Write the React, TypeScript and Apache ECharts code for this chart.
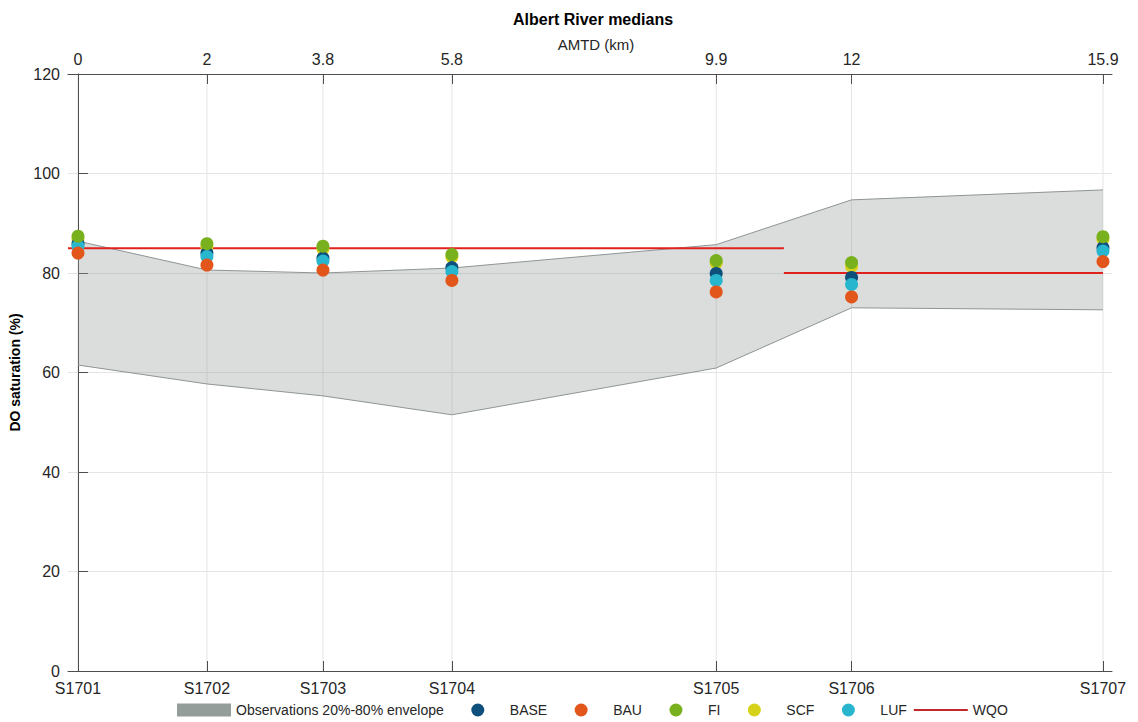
import React, { useEffect, useRef } from "react";
import * as echarts from "echarts";

// AMTD positions (km) of the stations
const km = [0, 2, 3.8, 5.8, 9.9, 12, 15.9];
const kmLabels = ["0", "2", "3.8", "5.8", "9.9", "12", "15.9"];
const stations = ["S1701", "S1702", "S1703", "S1704", "S1705", "S1706", "S1707"];

// Observations 20%-80% envelope
const envLower = [61.5, 57.7, 55.3, 51.5, 60.9, 73.0, 72.6];
const envUpper = [86.4, 80.6, 80.0, 81.0, 85.7, 94.7, 96.7];

// scenario medians (DO saturation %)
const BASE = [85.9, 84.0, 83.0, 81.1, 79.9, 79.1, 85.1];
const BAU = [84.0, 81.6, 80.6, 78.5, 76.2, 75.2, 82.3];
const FI = [87.4, 85.9, 85.4, 83.7, 82.5, 82.1, 87.3];
const SCF = [86.8, 85.3, 84.8, 83.2, 82.0, 81.3, 86.8];
const LUF = [85.4, 83.3, 82.4, 80.3, 78.5, 77.7, 84.4];

// water quality objective segments
const wqo1X = [-0.155, 10.95];
const wqo1Y = [85, 85];
const wqo2X = [10.95, 15.9];
const wqo2Y = [80, 80];

const X_MIN = -0.155;
const X_MAX = 16.04;

const FONT = "'Liberation Sans', Arial, Helvetica, sans-serif";
const TXT = "#262626";
const AXIS = "#4d4d4d";

const ENV_NAME = "Observations 20%-80% envelope";

// legend icons sized to a 54x13 box (M points fix the bounding box)
const CIRCLE_ICON =
  "path://M0 0M54 13M33.5 6.5A6.5 6.5 0 1 1 20.5 6.5A6.5 6.5 0 1 1 33.5 6.5Z";
const LINE_ICON = "path://M0 0M54 13M0 5.5L54 5.5L54 7.5L0 7.5Z";

export default function App() {
  const ref = useRef<HTMLDivElement>(null);
  useEffect(() => {
    if (!ref.current) return;
    const chart = echarts.init(ref.current, undefined, { renderer: "svg" });

    const scatter = (name: string, vals: number[], color: string, z: number) => ({
      name,
      type: "scatter",
      xAxisIndex: 0,
      yAxisIndex: 0,
      symbol: "circle",
      symbolSize: 13,
      z,
      itemStyle: { color, opacity: 1 },
      data: km.map((k, i) => [k, vals[i]]),
    });

    const nearest = (v: number) => {
      let best = 0;
      km.forEach((k, i) => {
        if (Math.abs(k - v) < Math.abs(km[best] - v)) best = i;
      });
      return best;
    };

    const option: any = {
      animation: false,
      textStyle: { fontFamily: FONT },
      title: {
        text: "Albert River medians",
        left: 508,
        top: 6,
        textStyle: { fontFamily: FONT, fontSize: 16, fontWeight: "bold", color: "#000" },
      },
      graphic: [
        {
          type: "text",
          x: 596,
          y: 44,
          style: {
            text: "AMTD (km)",
            fontFamily: FONT,
            fontSize: 15,
            fill: TXT,
            textAlign: "center",
            textVerticalAlign: "middle",
          },
        },
      ],
      grid: { left: 68, right: 26, top: 74, bottom: 51 },
      legend: {
        left: 172,
        top: 698,
        itemWidth: 54,
        itemHeight: 13,
        itemGap: 7,
        textStyle: { fontFamily: FONT, fontSize: 14, color: TXT },
        data: [
          { name: ENV_NAME, icon: "rect" },
          { name: "BASE", icon: CIRCLE_ICON },
          { name: "BAU", icon: CIRCLE_ICON },
          { name: "FI", icon: CIRCLE_ICON },
          { name: "SCF", icon: CIRCLE_ICON },
          { name: "LUF", icon: CIRCLE_ICON },
          { name: "WQO", icon: LINE_ICON, itemStyle: { color: "#c0282b" } },
        ],
      },
      xAxis: [
        {
          type: "value",
          position: "bottom",
          min: X_MIN,
          max: X_MAX,
          axisLine: { show: true, lineStyle: { color: AXIS, width: 1 } },
          axisTick: { show: true, inside: true, length: 10, customValues: km, lineStyle: { color: AXIS } },
          axisLabel: {
            customValues: km,
            margin: 9,
            fontSize: 16,
            fontFamily: FONT,
            color: TXT,
            formatter: (v: number) => stations[nearest(v)],
          },
          splitLine: { show: false },
        },
        {
          type: "value",
          position: "top",
          min: X_MIN,
          max: X_MAX,
          axisLine: { show: true, lineStyle: { color: AXIS, width: 1 } },
          axisTick: { show: true, inside: true, length: 10, customValues: km, lineStyle: { color: AXIS } },
          axisLabel: {
            customValues: km,
            margin: 7,
            fontSize: 16,
            fontFamily: FONT,
            color: TXT,
            formatter: (v: number) => kmLabels[nearest(v)],
          },
          splitLine: { show: false },
        },
      ],
      yAxis: {
        type: "value",
        min: 0,
        max: 120,
        interval: 20,
        name: "DO saturation (%)",
        nameLocation: "middle",
        nameGap: 42,
        nameTextStyle: { fontFamily: FONT, fontSize: 14, fontWeight: "bold", color: "#000" },
        axisLine: { show: true, lineStyle: { color: AXIS, width: 1 } },
        axisTick: { show: true, inside: true, length: 10, lineStyle: { color: AXIS } },
        axisLabel: { margin: 8, fontSize: 16, fontFamily: FONT, color: TXT },
        splitLine: { show: true, lineStyle: { color: "#e4e4e4", width: 1 } },
      },
      series: [
        {
          name: "vgrid",
          type: "custom",
          silent: true,
          z: 0,
          xAxisIndex: 0,
          yAxisIndex: 0,
          data: km.map((k) => [k, 0]),
          renderItem: (params: any, api: any) => {
            const x = api.value(0);
            const p0 = api.coord([x, 0]);
            const p1 = api.coord([x, 120]);
            return {
              type: "line",
              shape: { x1: p0[0], y1: p0[1], x2: p1[0], y2: p1[1] },
              style: { stroke: "#e4e4e4", lineWidth: 1 },
            };
          },
        },
        {
          name: ENV_NAME,
          type: "custom",
          silent: true,
          z: 1,
          xAxisIndex: 0,
          yAxisIndex: 0,
          itemStyle: { color: "#959d9a" },
          data: km.map((k, i) => [k, envLower[i], envUpper[i]]),
          renderItem: (params: any, api: any) => {
            if (params.dataIndex !== 0) return { type: "group", children: [] };
            const up = km.map((k, i) => api.coord([k, envUpper[i]]));
            const lo = km.map((k, i) => api.coord([k, envLower[i]]));
            const poly = up.concat(lo.slice().reverse());
            return {
              type: "group",
              children: [
                {
                  type: "polygon",
                  shape: { points: poly },
                  style: { fill: "rgba(149,157,154,0.35)", stroke: "none" },
                },
                {
                  type: "polyline",
                  shape: { points: up },
                  style: { fill: "none", stroke: "#8f9494", lineWidth: 1 },
                },
                {
                  type: "polyline",
                  shape: { points: lo },
                  style: { fill: "none", stroke: "#8f9494", lineWidth: 1 },
                },
              ],
            };
          },
        },
        {
          name: "WQO",
          type: "line",
          xAxisIndex: 0,
          yAxisIndex: 0,
          symbol: "none",
          z: 3,
          lineStyle: { color: "#e0221d", width: 2 },
          itemStyle: { color: "#e0221d" },
          data: wqo1X.map((x, i) => [x, wqo1Y[i]]),
        },
        {
          name: "WQO",
          type: "line",
          xAxisIndex: 0,
          yAxisIndex: 0,
          symbol: "none",
          z: 3,
          lineStyle: { color: "#e0221d", width: 2 },
          itemStyle: { color: "#e0221d" },
          data: wqo2X.map((x, i) => [x, wqo2Y[i]]),
        },
        scatter("SCF", SCF, "#d6d219", 4),
        scatter("BASE", BASE, "#0e4f7b", 5),
        scatter("LUF", LUF, "#28b6ce", 6),
        scatter("BAU", BAU, "#e2561b", 7),
        scatter("FI", FI, "#79b01e", 8),
      ],
    };

    chart.setOption(option);
    return () => chart.dispose();
  }, []);

  return (
    <div
      ref={ref}
      style={{ position: "fixed", left: 0, top: 0, width: 1138, height: 722, background: "#fff" }}
    />
  );
}
